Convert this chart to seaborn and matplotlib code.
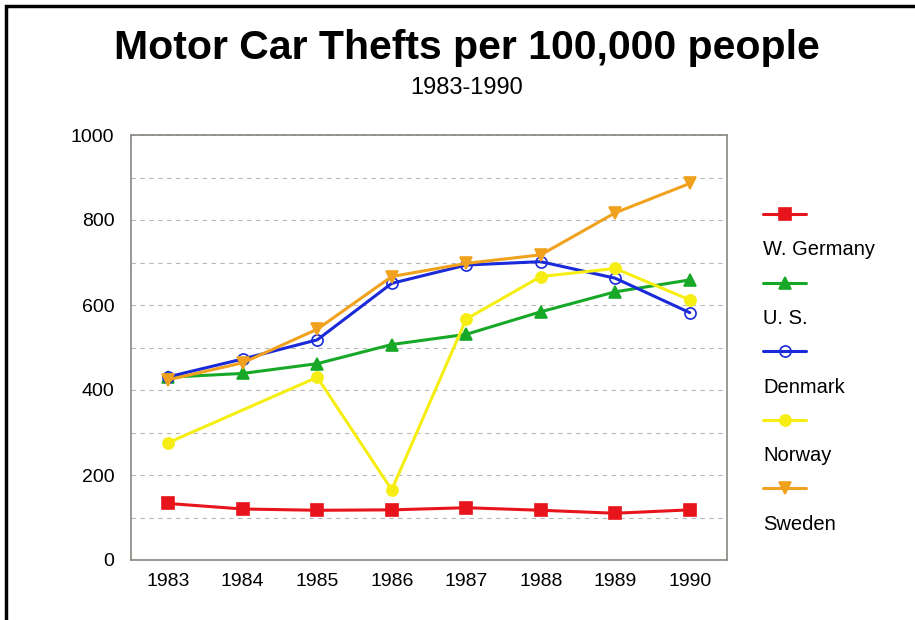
import matplotlib
matplotlib.use("Agg")
import matplotlib.pyplot as plt
from matplotlib.lines import Line2D
from matplotlib.patches import Rectangle
import seaborn as sns
import pandas as pd
import numpy as np

years = [1983, 1984, 1985, 1986, 1987, 1988, 1989, 1990]
w_germany = [133, 120, 117, 118, 123, 117, 110, 118]
us = [430, 439, 462, 507, 531, 584, 631, 659]
denmark = [431, 473, 518, 651, 694, 702, 663, 582]
norway = [276, None, 430, 165, 567, 667, 686, 612]
sweden = [424, 464, 543, 667, 698, 718, 817, 886]

series_names = ["W. Germany", "U. S.", "Denmark", "Norway", "Sweden"]
series_values = [w_germany, us, denmark, norway, sweden]
colors = ["#e8141c", "#18a828", "#1a2ad8", "#f6ee12", "#f0a21e"]
markers = ["s", "^", "o", "o", "v"]
facecolors = ["#e8141c", "#18a828", "none", "#f6ee12", "#f0a21e"]
msizes = [8, 8, 8, 8, 8]

sns.set_style("white")
plt.rcParams['font.family'] = ['Liberation Sans', 'DejaVu Sans']
plt.rcParams['text.color'] = 'black'
plt.rcParams['xtick.color'] = 'black'
plt.rcParams['ytick.color'] = 'black'

fig = plt.figure(figsize=(9.15, 6.2), dpi=100)
ax = fig.add_axes([131/915, 60/620, 596/915, 425/620])

handles = []
for name, vals, c, m, fc, ms in zip(series_names, series_values, colors, markers, facecolors, msizes):
    df = pd.DataFrame({"year": years, "value": vals}).dropna()
    sns.lineplot(data=df, x="year", y="value", ax=ax, color=c, linewidth=2.2,
                 marker=m, markersize=ms, markerfacecolor=fc, markeredgecolor=c,
                 markeredgewidth=1.2, legend=False)
    handles.append(Line2D([], [], color=c, linewidth=2.2, marker=m, markersize=ms,
                          markerfacecolor=fc, markeredgecolor=c, markeredgewidth=1.2))

ax.set_xlim(1982.5, 1990.5)
ax.set_ylim(0, 1000)
ax.set_xticks(years)
ax.set_xticklabels([str(y) for y in years], fontsize=14)
ax.set_yticks(np.arange(0, 1001, 200))
ax.set_yticklabels([str(v) for v in range(0, 1001, 200)], fontsize=14)
ax.set_yticks(np.arange(0, 1001, 100), minor=True)
ax.grid(True, axis="y", which="both", color="#b8b8b8", linestyle=(0, (4, 4)), linewidth=0.8)
ax.set_xlabel("")
ax.set_ylabel("")
for s in ax.spines.values():
    s.set_color("#8a8580")
    s.set_linewidth(1.2)
ax.tick_params(axis="x", which="major", direction="out", length=5, color="#8a8580", pad=4)
ax.tick_params(axis="y", which="both", length=0, pad=12)

# legend: key above label
blank = Line2D([], [], color="none")
leg_handles, leg_labels = [], []
for h, n in zip(handles, series_names):
    leg_handles += [h, blank]
    leg_labels += ["", n]
fig.legend(leg_handles, leg_labels, loc="upper left", bbox_to_anchor=(755/915, 1 - 198/620),
           frameon=False, fontsize=14.5, handlelength=2.15, handletextpad=-2.15,
           labelspacing=0.76, borderaxespad=0)

fig.text(467/915, 1 - 48/620, "Motor Car Thefts per 100,000 people", ha="center", va="center",
         fontsize=29.5, fontweight="bold", family=["Liberation Sans Narrow", "Liberation Sans", "DejaVu Sans"])
fig.text(467/915, 1 - 88/620, "1983-1990", ha="center", va="center",
         fontsize=17, family=["Liberation Sans Narrow", "Liberation Sans", "DejaVu Sans"])

fig.patches.append(Rectangle((6/915, -0.05), 1.2, 1 - 6/620 + 0.05, transform=fig.transFigure,
                             fill=False, edgecolor="black", linewidth=2.5))

fig.savefig("out.png", dpi=100)
